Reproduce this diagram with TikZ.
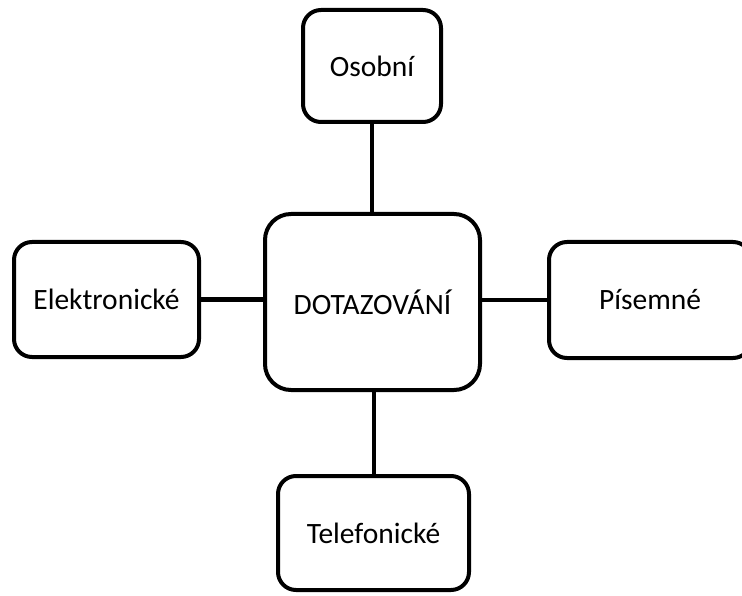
\documentclass[tikz,border=0pt]{standalone}
\usepackage{fontspec}
\setmainfont{Carlito}
\begin{document}
\begin{tikzpicture}[x=1pt,y=1pt,
  box/.style={draw=black, line width=4pt, fill=white, rounded corners=18pt,
    inner sep=0pt, font=\fontsize{29.5}{34}\selectfont, text=black},
  bigbox/.style={box, rounded corners=26pt},
  link/.style={draw=black, line width=4pt}]
\useasboundingbox (0,0) rectangle (742,-596);
\clip (0,0) rectangle (742,-596);
\node[bigbox, minimum width=215pt, minimum height=176pt] (c) at (372.5,-302) {DOTAZOVÁNÍ};
\node[box, minimum width=138pt, minimum height=112pt] (o) at (372,-66) {Osobní};
\node[box, minimum width=185pt, minimum height=115pt] (e) at (106.5,-299.5) {Elektronické};
\node[box, minimum width=202pt, minimum height=116pt] (p) at (650,-300) {Písemné};
\node[box, minimum width=191pt, minimum height=114pt] (t) at (373.5,-533) {Telefonické};
\draw[link] (o.south) -- (o.south |- c.north);
\draw[link] (t.north) -- (t.north |- c.south);
\draw[link] (e.east) -- (e.east -| c.west);
\draw[link] (p.west) -- (p.west -| c.east);
\end{tikzpicture}
\end{document}
